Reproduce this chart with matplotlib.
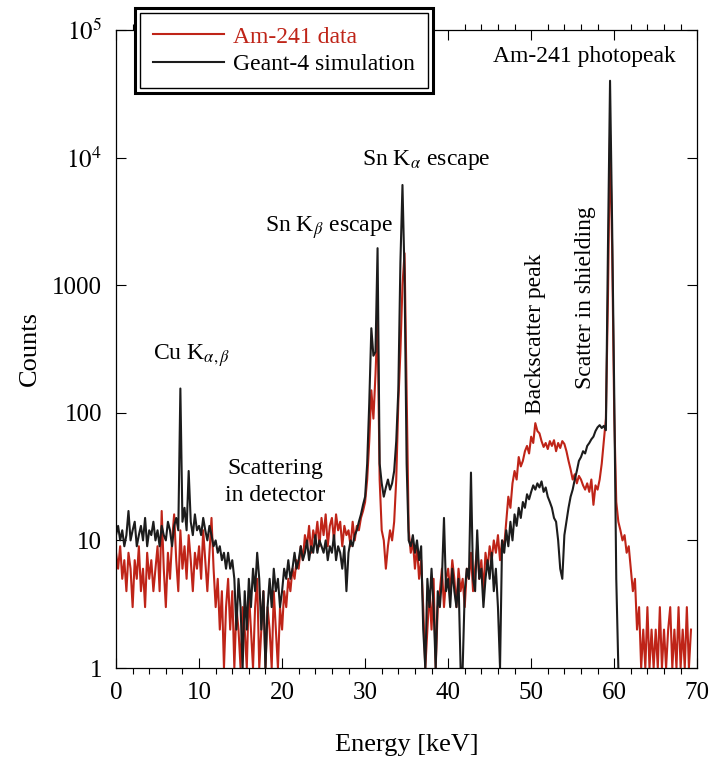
import matplotlib.pyplot as plt
import numpy as np
from matplotlib.patches import Rectangle

plt.rcParams['font.family'] = ['Liberation Serif', 'DejaVu Serif']
plt.rcParams['mathtext.fontset'] = 'stix'

bin_kev = 0.25

# Geant-4 simulation (black), counts per bin
sim_counts = [
    11, 13, 10, 12, 9, 11, 17, 10, 12, 14, 9, 11, 13, 10, 15, 9, 12, 11, 14, 10,            # 0-5
    12, 9, 13, 11, 10, 14, 12, 9, 13, 15, 12, 155, 14, 18, 12, 35, 14, 11, 16, 12,          # 5-10
    13, 11, 15, 12, 10, 13, 11, 9, 10, 8, 9, 7, 8, 6, 8, 6, 7, 5, 2, 5,                     # 10-15
    3, 1, 4, 2, 5, 3, 6, 4, 8, 5, 2, 4, 1, 3, 5, 3, 6, 4, 5, 3,                             # 15-20
    4, 6, 5, 7, 5, 6, 8, 6, 7, 9, 7, 8, 10, 7, 9, 8, 11, 8, 10, 9,                          # 20-25
    8, 10, 7, 9, 8, 11, 7, 9, 8, 6, 9, 4, 8, 10, 9, 11, 12, 14, 16, 19,                     # 25-30
    22, 40, 120, 460, 280, 300, 1950, 40, 28, 22, 26, 30, 25, 28, 35, 60, 150, 1500, 6100, 1200,  # 30-35
    40, 10, 9, 11, 8, 10, 7, 9, 2, 1, 5, 3, 6, 3, 1, 4, 3, 5, 15, 4,                        # 35-40
    5, 3, 6, 4, 3, 5, 1, 1, 4, 6, 5, 34, 5, 4, 12, 5, 6, 3, 5, 7,                           # 40-45
    5, 8, 4, 6, 3, 1, 10, 8, 12, 9, 14, 10, 16, 13, 18, 15, 20, 18, 23, 21,                 # 45-50
    24, 27, 25, 28, 26, 29, 24, 26, 22, 20, 18, 15, 14, 10, 6, 5, 11, 14, 18, 22,           # 50-55
    25, 30, 35, 42, 45, 50, 48, 55, 58, 62, 65, 72, 77, 80, 76, 79, 73, 2000, 40000, 3000,  # 55-60
    150, 5, 1,                                                                              # 60-
]

# Am-241 data (red), counts per bin
data_counts = [
    8, 6, 9, 5, 7, 4, 8, 6, 3, 7, 5, 9, 4, 6, 3, 8, 5, 7, 4, 6,                             # 0-5
    9, 4, 17, 6, 3, 8, 5, 10, 16, 7, 4, 12, 6, 9, 5, 11, 7, 4, 8, 6,                        # 5-10
    9, 5, 12, 7, 4, 8, 15, 6, 3, 5, 2, 4, 1, 3, 5, 2, 4, 1, 3, 2,                           # 10-15
    1, 3, 2, 1, 4, 2, 1, 3, 5, 1, 2, 4, 1, 3, 2, 1, 4, 2, 1, 3,                             # 15-20
    2, 4, 3, 5, 4, 6, 5, 7, 6, 9, 7, 11, 9, 13, 8, 12, 10, 14, 9, 15,                       # 20-25
    11, 16, 9, 13, 15, 10, 16, 12, 14, 9, 13, 11, 12, 9, 14, 10, 13, 12, 15, 17,            # 25-30
    20, 30, 60, 150, 90, 200, 530, 30, 12, 10, 6, 9, 12, 10, 14, 30, 120, 300, 1000, 1780,  # 30-35
    150, 12, 8, 10, 6, 9, 5, 7, 3, 1, 2, 4, 2, 5, 1, 3, 4, 6, 3, 5,                         # 35-40
    6, 4, 7, 5, 3, 6, 4, 5, 3, 6, 5, 8, 4, 6, 9, 5, 7, 4, 8, 6,                             # 40-45
    9, 7, 10, 8, 11, 7, 10, 9, 14, 22, 18, 28, 35, 30, 45, 38, 42, 50, 55, 48,              # 45-50
    65, 58, 83, 72, 69, 60, 54, 58, 52, 60, 55, 61, 50, 58, 53, 60, 57, 50, 42, 36,         # 50-55
    30, 33, 28, 32, 30, 27, 25, 28, 24, 30, 19, 27, 25, 30, 40, 60, 90, 800, 15000, 2000,   # 55-60
    100, 20, 14, 12, 10, 11, 8, 9, 6, 4, 5, 2, 3, 1, 2, 1, 3, 1, 2, 1,                      # 60-65
    2, 1, 3, 1, 2, 1, 2, 3, 1, 2, 1, 3, 1, 2, 1, 3, 1, 2,                                   # 65-69.25
]

ytick_vals = [1, 10, 100, 1000, 1e4, 1e5]
ytick_text = ['1', '10', '100', '1000', '$10^4$', '$10^5$']

e_sim = np.arange(len(sim_counts)) * bin_kev
e_data = np.arange(len(data_counts)) * bin_kev

fig = plt.figure(figsize=(7.14, 7.61), dpi=100)
ax = fig.add_axes([0.1625, 0.1222, 0.814, 0.8384])

red_line, = ax.plot(e_data, data_counts, color='#bf2418', lw=1.5, label='Am-241 data')
blk_line, = ax.plot(e_sim, sim_counts, color='#1c1c1c', lw=1.5, label='Geant-4 simulation')

ax.set_yscale('log')
ax.set_xlim(0, 70)
ax.set_ylim(1, 1e5)
ax.set_yticks(ytick_vals)
ax.set_yticklabels(ytick_text)
ax.yaxis.set_minor_locator(plt.NullLocator())
ax.set_xticks(np.arange(0, 71, 10))
ax.set_xticks(np.arange(0, 71, 2), minor=True)
ax.tick_params(direction='in', top=True, right=True, labelsize=18, pad=10)
ax.tick_params(which='major', length=7, width=0.8)
ax.tick_params(which='minor', length=4, width=0.8, top=True)
for s in ax.spines.values():
    s.set_linewidth(0.9)

ax.set_xlabel('Energy [keV]', fontsize=19, labelpad=22)
ax.set_ylabel('Counts', fontsize=19, labelpad=8)

# annotations
fs = 17
ax.text(0.806, 0.975, 'Am-241 photopeak', transform=ax.transAxes, fontsize=fs, ha='center', va='top')
ax.text(0.423, 0.796, r'Sn K$_\alpha$ escape', transform=ax.transAxes, fontsize=fs, ha='left', va='center')
ax.text(0.256, 0.69, r'Sn K$_\beta$ escape', transform=ax.transAxes, fontsize=fs, ha='left', va='center')
ax.text(0.063, 0.49, r'Cu K$_{\alpha,\beta}$', transform=ax.transAxes, fontsize=fs, ha='left', va='center')
ax.text(0.274, 0.292, 'Scattering\nin detector', transform=ax.transAxes, fontsize=fs,
        ha='center', va='center', linespacing=1.4)
ax.text(0.721, 0.524, 'Backscatter peak', transform=ax.transAxes, fontsize=fs,
        ha='center', va='center', rotation=90)
ax.text(0.807, 0.58, 'Scatter in shielding', transform=ax.transAxes, fontsize=fs,
        ha='center', va='center', rotation=90)

# legend with a double frame, sitting over the top edge
leg = fig.legend(handles=[red_line, blk_line], loc='upper left',
                 bbox_to_anchor=(140 / 714, 1 - 13 / 761), fontsize=17,
                 frameon=True, fancybox=False, edgecolor='black', framealpha=1,
                 handlelength=3.0, handletextpad=0.4, labelspacing=0.25,
                 borderpad=0.55, borderaxespad=0)
leg.get_frame().set_linewidth(1.0)
leg.get_texts()[0].set_color('#bf2418')
leg.set_zorder(6)
fig.canvas.draw()
bb = leg.get_window_extent().transformed(fig.transFigure.inverted())
pad_x, pad_y = 5 / 714, 5 / 761
fig.patches.append(Rectangle((bb.x0 - pad_x, bb.y0 - pad_y), bb.width + 2 * pad_x, bb.height + 2 * pad_y,
                             transform=fig.transFigure, fill=True, facecolor='white',
                             edgecolor='black', lw=2.2, zorder=5))

fig.savefig('out.png', dpi=100)
